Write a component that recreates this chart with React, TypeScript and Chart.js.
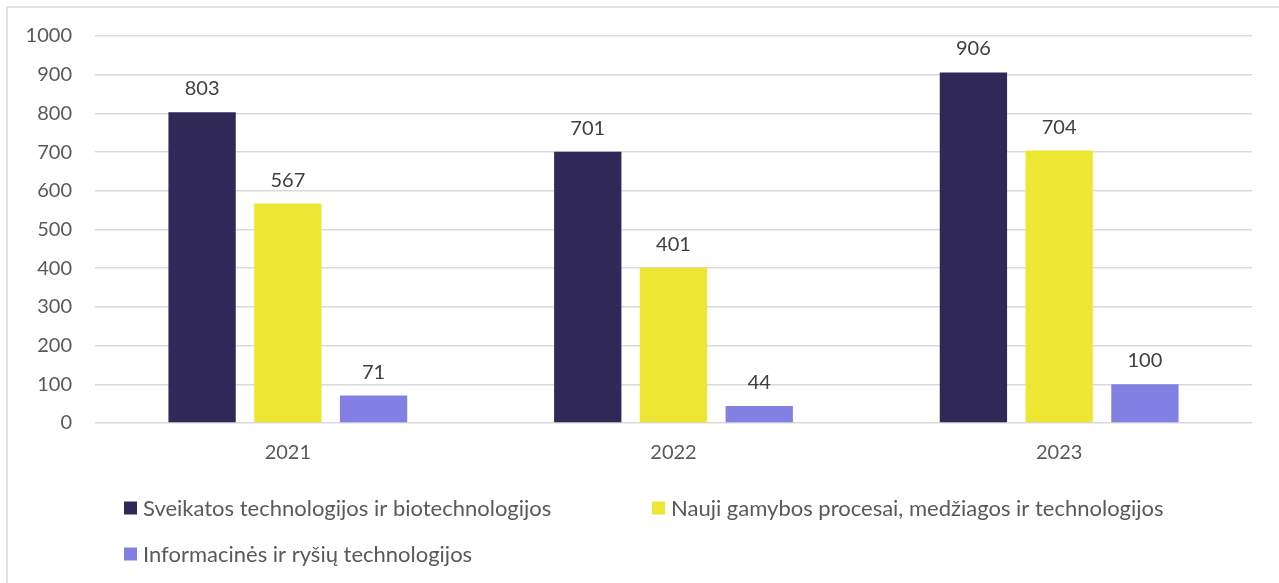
import React, { useEffect, useRef } from "react";
import { Chart, registerables } from "chart.js";

Chart.register(...registerables);

const categories = ["2021", "2022", "2023"];
const seriesNames = [
  "Sveikatos technologijos ir biotechnologijos",
  "Nauji gamybos procesai, medžiagos ir technologijos",
  "Informacinės ir ryšių technologijos",
];
const healthValues = [803, 701, 906];
const manufacturingValues = [567, 401, 704];
const ictValues = [71, 44, 100];
const seriesColors = ["#302958", "#ede733", "#8380e3"];
const yTicks = [0, 100, 200, 300, 400, 500, 600, 700, 800, 900, 1000];

const FONT = "Lato, 'Noto Sans', sans-serif";
const FONT_SIZE = 20;
const LEGEND_FONT_SIZE = 22;
const TEXT = "#595959";

const framePlugin = {
  id: "frame",
  beforeDraw(chart: any) {
    const ctx = chart.ctx;
    ctx.save();
    ctx.fillStyle = "#ffffff";
    ctx.fillRect(0, 0, chart.width, chart.height);
    ctx.strokeStyle = "#d9d9d9";
    ctx.lineWidth = 1.5;
    ctx.strokeRect(7, 7, chart.width + 20, chart.height + 20);
    ctx.restore();
  },
};

const valueLabelPlugin = {
  id: "valueLabels",
  afterDatasetsDraw(chart: any) {
    const ctx = chart.ctx;
    ctx.save();
    ctx.font = `${FONT_SIZE}px ${FONT}`;
    ctx.fillStyle = "#404040";
    ctx.textAlign = "center";
    ctx.textBaseline = "alphabetic";
    chart.data.datasets.forEach((ds: any, i: number) => {
      const meta = chart.getDatasetMeta(i);
      meta.data.forEach((bar: any, j: number) => {
        ctx.fillText(String(ds.data[j]), bar.x, bar.y - 17);
      });
    });
    ctx.restore();
  },
};

const legendPlugin = {
  id: "customLegend",
  afterDraw(chart: any) {
    const ctx = chart.ctx;
    const positions = [
      { x: 124, y: 508 },
      { x: 652, y: 508 },
      { x: 124, y: 554 },
    ];
    ctx.save();
    ctx.font = `${LEGEND_FONT_SIZE}px ${FONT}`;
    ctx.textAlign = "left";
    ctx.textBaseline = "middle";
    chart.data.datasets.forEach((ds: any, i: number) => {
      const p = positions[i];
      ctx.fillStyle = ds.backgroundColor;
      ctx.fillRect(p.x, p.y - 6.5, 13, 13);
      ctx.fillStyle = TEXT;
      ctx.fillText(ds.label, p.x + 19, p.y + 1);
    });
    ctx.restore();
  },
};

export default function App() {
  const ref = useRef<HTMLCanvasElement>(null);

  useEffect(() => {
    document.body.style.overflow = "hidden";
    const canvas = ref.current!;
    const datasets = [healthValues, manufacturingValues, ictValues].map((d, i) => ({
      label: seriesNames[i],
      data: d,
      backgroundColor: seriesColors[i],
      borderWidth: 0,
      categoryPercentage: 0.667,
      barPercentage: 0.785,
    }));
    const chart = new Chart(canvas, {
      type: "bar",
      data: { labels: categories, datasets },
      options: {
        animation: false,
        responsive: false,
        maintainAspectRatio: false,
        layout: { padding: { top: 36, right: 27, left: 0, bottom: 100 } },
        plugins: {
          legend: { display: false },
          tooltip: { enabled: false },
        },
        scales: {
          x: {
            grid: { display: false, drawTicks: false },
            border: { display: false },
            ticks: {
              color: TEXT,
              font: { family: FONT, size: FONT_SIZE },
              padding: 18,
            },
            afterFit(scale: any) {
              scale.height = 60;
            },
          },
          y: {
            min: 0,
            max: 1000,
            afterBuildTicks(scale: any) {
              scale.ticks = yTicks.map((v) => ({ value: v }));
            },
            grid: { color: "#d9d9d9", lineWidth: 1.5, drawTicks: false },
            border: { display: false },
            ticks: {
              color: TEXT,
              font: { family: FONT, size: FONT_SIZE },
              padding: 23,
              callback: (v: any) => String(v),
            },
            afterFit(scale: any) {
              scale.width = 95;
            },
          },
        },
      },
      plugins: [framePlugin, valueLabelPlugin, legendPlugin],
    });
    return () => chart.destroy();
  }, []);

  return (
    <canvas
      ref={ref}
      width={1279}
      height={583}
      style={{ position: "fixed", left: 0, top: 0, width: 1279, height: 583, display: "block" }}
    />
  );
}
